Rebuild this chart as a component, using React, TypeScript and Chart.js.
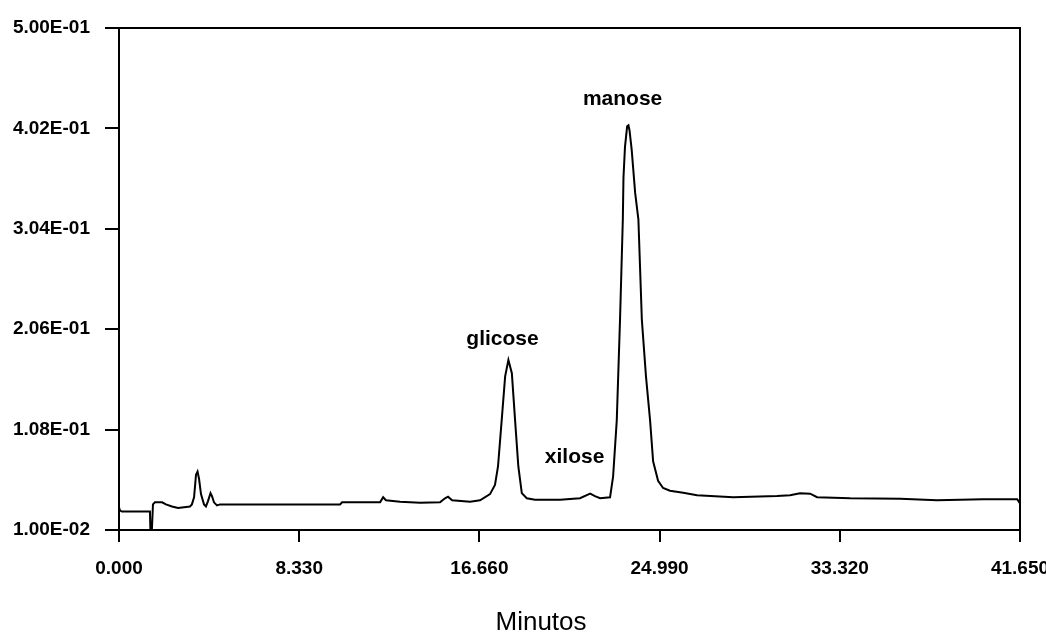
import React, { useEffect, useRef } from "react";
import { Chart, registerables } from "chart.js";

Chart.register(...registerables);

// Retention time (minutes)
const times = [
  0.0, 0.05, 0.14, 0.74, 1.43, 1.45, 1.52, 1.57, 1.66, 1.99, 2.17, 2.45, 2.73, 3.28, 3.37, 3.47, 3.56, 3.63,
  3.7, 3.79, 3.93, 4.02, 4.11, 4.23, 4.3, 4.39, 4.53, 4.67, 10.22, 10.31, 12.07, 12.21, 12.34, 12.99, 13.92,
  14.84, 15.07, 15.21, 15.4, 16.23, 16.69, 17.15, 17.38, 17.52, 17.69, 17.85, 18.0, 18.16, 18.31, 18.46,
  18.62, 18.85, 19.23, 20.39, 21.31, 21.78, 22.0, 22.24, 22.7, 22.84, 23.01, 23.16, 23.29, 23.32, 23.39,
  23.49, 23.55, 23.6, 23.7, 23.86, 24.01, 24.17, 24.36, 24.55, 24.69, 24.92, 25.15, 25.47, 26.08, 26.72,
  28.39, 30.42, 31.02, 31.48, 31.95, 32.27, 33.8, 36.11, 37.82, 39.94, 41.52, 41.65,
];

// Detector signal
const signal = [
  0.032, 0.029, 0.028, 0.028, 0.028, 0.011, 0.01, 0.035, 0.037, 0.037, 0.035, 0.033, 0.0315, 0.033, 0.035,
  0.042, 0.064, 0.067, 0.06, 0.045, 0.035, 0.033, 0.038, 0.046, 0.043, 0.037, 0.034, 0.035, 0.035, 0.037,
  0.037, 0.042, 0.039, 0.0375, 0.0365, 0.037, 0.041, 0.0425, 0.039, 0.0375, 0.039, 0.045, 0.054, 0.072,
  0.117, 0.16, 0.176, 0.163, 0.117, 0.072, 0.046, 0.041, 0.0395, 0.0395, 0.041, 0.0455, 0.043, 0.041, 0.042,
  0.062, 0.117, 0.215, 0.313, 0.354, 0.384, 0.404, 0.405, 0.4, 0.381, 0.339, 0.313, 0.215, 0.16, 0.117,
  0.077, 0.058, 0.051, 0.0484, 0.0464, 0.044, 0.042, 0.0432, 0.044, 0.0458, 0.0455, 0.042, 0.041, 0.0406,
  0.039, 0.04, 0.04, 0.036,
];

const xTickValues = [0, 8.33, 16.66, 24.99, 33.32, 41.65];
const xTickLabels = ["0.000", "8.330", "16.660", "24.990", "33.320", "41.650"];
const yTickValues = [0.01, 0.108, 0.206, 0.304, 0.402, 0.5];
const yTickLabels = ["1.00E-02", "1.08E-01", "2.06E-01", "3.04E-01", "4.02E-01", "5.00E-01"];

const peakNames = ["glicose", "xilose", "manose"];
const peakLabelTimes = [17.73, 21.06, 23.28];
const peakLabelValues = [0.1906, 0.0751, 0.4248];

const xAxisTitle = "Minutos";

const FONT = '"Liberation Sans", Arial, sans-serif';

const overlayPlugin = {
  id: "overlay",
  afterDraw(chart: any) {
    const { ctx, chartArea, scales } = chart;
    const { left, top, right, bottom } = chartArea;
    const x = scales.x;
    const y = scales.y;
    ctx.save();
    ctx.strokeStyle = "#000";
    ctx.lineWidth = 2;
    ctx.beginPath();
    ctx.moveTo(left, top);
    ctx.lineTo(right, top);
    ctx.lineTo(right, bottom);
    ctx.stroke();

    ctx.fillStyle = "#000";
    ctx.font = `bold 21px ${FONT}`;
    ctx.textAlign = "center";
    ctx.textBaseline = "alphabetic";
    peakNames.forEach((name, i) => {
      ctx.fillText(name, x.getPixelForValue(peakLabelTimes[i]), y.getPixelForValue(peakLabelValues[i]));
    });

    ctx.font = `26px ${FONT}`;
    ctx.textBaseline = "middle";
    ctx.fillText(xAxisTitle, 541, 623);
    ctx.restore();
  },
};

export default function App() {
  const canvasRef = useRef<HTMLCanvasElement | null>(null);

  useEffect(() => {
    const canvas = canvasRef.current;
    if (!canvas) return;
    const chart = new Chart(canvas, {
      type: "line",
      data: {
        datasets: [
          {
            data: times.map((t, i) => ({ x: t, y: signal[i] })),
            borderColor: "#000",
            borderWidth: 2,
            pointRadius: 0,
            tension: 0,
            fill: false,
          },
        ],
      },
      options: {
        animation: false,
        responsive: false,
        devicePixelRatio: 1,
        layout: { padding: { top: 28, right: 26, left: 0, bottom: 0 } },
        plugins: {
          legend: { display: false },
          tooltip: { enabled: false },
        },
        scales: {
          x: {
            type: "linear",
            min: 0,
            max: 41.65,
            afterBuildTicks: (scale: any) => {
              scale.ticks = xTickValues.map((v) => ({ value: v }));
            },
            afterFit: (scale: any) => {
              scale.height = 105;
              scale.paddingLeft = 0;
              scale.paddingRight = 0;
            },
            ticks: {
              autoSkip: false,
              maxRotation: 0,
              minRotation: 0,
              padding: 15,
              color: "#000",
              font: { family: FONT, size: 19, weight: "bold" },
              callback: (_v: any, i: number) => xTickLabels[i],
            },
            grid: {
              drawOnChartArea: false,
              drawTicks: true,
              tickLength: 12,
              color: "#000",
              lineWidth: 2,
            },
            border: { display: true, color: "#000", width: 2 },
          },
          y: {
            type: "linear",
            min: 0.01,
            max: 0.5,
            afterBuildTicks: (scale: any) => {
              scale.ticks = yTickValues.map((v) => ({ value: v }));
            },
            afterFit: (scale: any) => {
              scale.width = 119;
            },
            ticks: {
              autoSkip: false,
              padding: 15,
              color: "#000",
              font: { family: FONT, size: 19, weight: "bold" },
              callback: (_v: any, i: number) => yTickLabels[i],
            },
            grid: {
              drawOnChartArea: false,
              drawTicks: true,
              tickLength: 14,
              color: "#000",
              lineWidth: 2,
            },
            border: { display: true, color: "#000", width: 2 },
          },
        },
      },
      plugins: [overlayPlugin],
    } as any);
    return () => chart.destroy();
  }, []);

  return (
    <div style={{ position: "fixed", left: 0, top: 0, width: 1046, height: 635, background: "#fff" }}>
      <canvas ref={canvasRef} width={1046} height={635} style={{ display: "block" }} />
    </div>
  );
}
